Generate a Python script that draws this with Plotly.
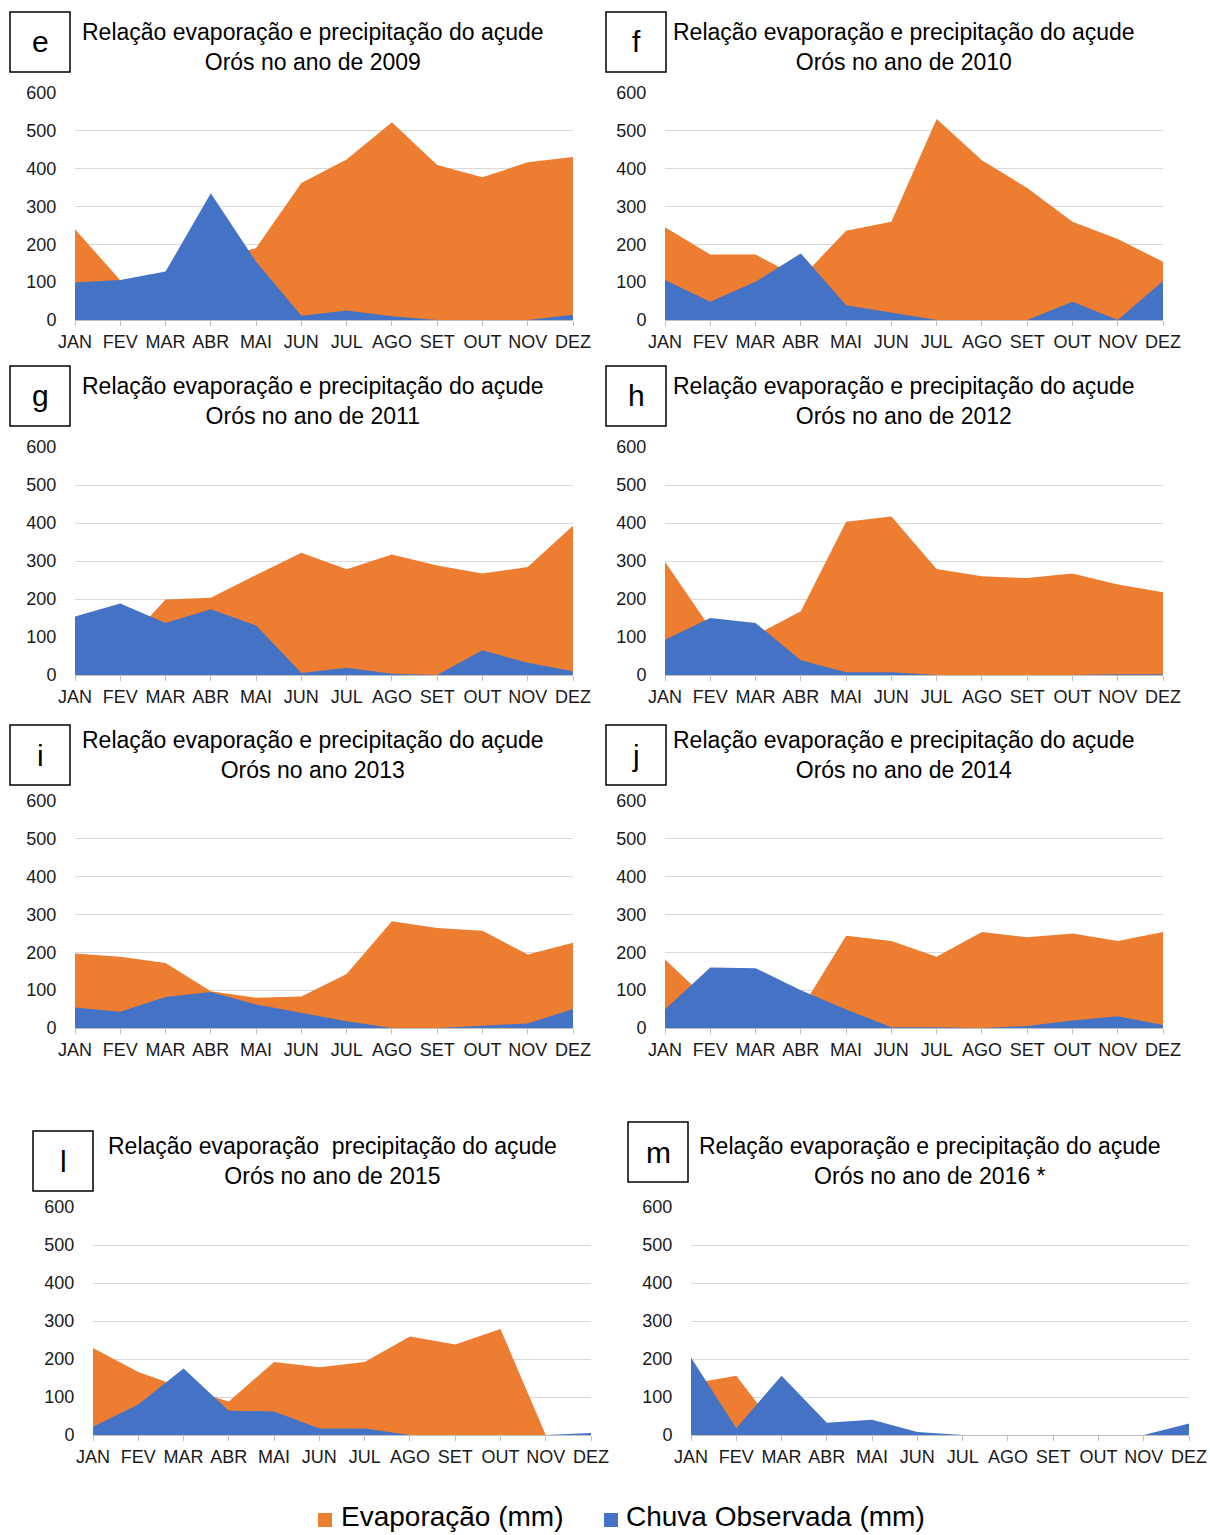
import plotly.graph_objects as go

W, H = 1210, 1535

months = ["JAN", "FEV", "MAR", "ABR", "MAI", "JUN", "JUL", "AGO", "SET", "OUT", "NOV", "DEZ"]

# Monthly evaporation (mm) per year
evap_2009 = [240, 105, 120, 160, 190, 362, 424, 523, 410, 377, 417, 431]
evap_2010 = [245, 173, 173, 110, 236, 260, 531, 422, 349, 260, 214, 154]
evap_2011 = [120, 70, 199, 203, 263, 322, 278, 317, 288, 267, 284, 393]
evap_2012 = [298, 124, 105, 168, 403, 417, 279, 260, 255, 267, 238, 218]
evap_2013 = [197, 188, 172, 97, 80, 83, 143, 282, 264, 257, 194, 225]
evap_2014 = [181, 68, 60, 48, 244, 230, 188, 254, 240, 250, 230, 254]
evap_2015 = [229, 166, 124, 88, 192, 178, 192, 259, 238, 279, 0, 0]
evap_2016 = [135, 156, 0, 0, 0, 0, 0, 0, 0, 0, 0, 0]

# Monthly observed rainfall (mm) per year
rain_2009 = [99, 106, 128, 335, 154, 11, 25, 10, 0, 0, 0, 14]
rain_2010 = [106, 48, 101, 176, 39, 19, 0, 0, 0, 48, 0, 103]
rain_2011 = [154, 188, 137, 173, 130, 5, 19, 3, 0, 65, 32, 10]
rain_2012 = [93, 150, 137, 39, 7, 7, 0, 0, 0, 0, 2, 2]
rain_2013 = [54, 43, 82, 95, 62, 40, 18, 0, 0, 6, 12, 50]
rain_2014 = [49, 160, 158, 100, 49, 2, 2, 0, 5, 20, 31, 8]
rain_2015 = [22, 80, 175, 64, 62, 17, 17, 0, 0, 0, 0, 5]
rain_2016 = [204, 18, 156, 32, 40, 8, 0, 0, 0, 0, 0, 30]

series_names = ["Evaporação (mm)", "Chuva Observada (mm)"]
letters = ["e", "f", "g", "h", "i", "j", "l", "m"]
titles = [
    "Relação evaporação e precipitação do açude<br>Orós no ano de 2009",
    "Relação evaporação e precipitação do açude<br>Orós no ano de 2010",
    "Relação evaporação e precipitação do açude<br>Orós no ano de 2011",
    "Relação evaporação e precipitação do açude<br>Orós no ano de 2012",
    "Relação evaporação e precipitação do açude<br>Orós no ano 2013",
    "Relação evaporação e precipitação do açude<br>Orós no ano de 2014",
    "Relação evaporação  precipitação do açude<br>Orós no ano de 2015",
    "Relação evaporação e precipitação do açude<br>Orós no ano de 2016 *",
]
evap_series = [evap_2009, evap_2010, evap_2011, evap_2012, evap_2013, evap_2014, evap_2015, evap_2016]
rain_series = [rain_2009, rain_2010, rain_2011, rain_2012, rain_2013, rain_2014, rain_2015, rain_2016]

# Pixel layout of each panel: plot x-span, y-span (top, bottom), letter box corner, title centre
panels = [
    dict(px=(75, 573), py=(93, 320), box=(10, 12), tx=313, ty=47),
    dict(px=(665, 1163), py=(93, 320), box=(606, 12), tx=904, ty=47),
    dict(px=(75, 573), py=(447, 675), box=(10, 366), tx=313, ty=401),
    dict(px=(665, 1163), py=(447, 675), box=(606, 366), tx=904, ty=401),
    dict(px=(75, 573), py=(801, 1028), box=(10, 725), tx=313, ty=755),
    dict(px=(665, 1163), py=(801, 1028), box=(606, 725), tx=904, ty=755),
    dict(px=(93, 591), py=(1207, 1435), box=(33, 1131), tx=332, ty=1161),
    dict(px=(691, 1189), py=(1207, 1435), box=(628, 1122), tx=930, ty=1161),
]

ORANGE = "#ED7D31"
BLUE = "#4472C4"
FONT = "Liberation Sans, Arial, sans-serif"


def fx(p):
    return p / W


def fy(p):
    return 1 - p / H


fig = go.Figure()
layout = dict(shapes=[], annotations=[])
x_idx = list(range(12))

for i, (p, ev, rn) in enumerate(zip(panels, evap_series, rain_series)):
    n = "" if i == 0 else str(i + 1)
    xa, ya = "x" + n, "y" + n
    fig.add_trace(go.Scatter(
        x=x_idx, y=ev, xaxis=xa, yaxis=ya, mode="lines", fill="tozeroy",
        line=dict(width=0, color=ORANGE), fillcolor=ORANGE,
        name=series_names[0], showlegend=False, hoverinfo="skip"))
    fig.add_trace(go.Scatter(
        x=x_idx, y=rn, xaxis=xa, yaxis=ya, mode="lines", fill="tozeroy",
        line=dict(width=0, color=BLUE), fillcolor=BLUE,
        name=series_names[1], showlegend=False, hoverinfo="skip"))

    layout["xaxis" + n] = dict(
        domain=[fx(p["px"][0]), fx(p["px"][1])], anchor=ya, range=[0, 11],
        tickvals=x_idx, ticktext=months, showgrid=False, zeroline=False,
        showline=True, linecolor="#bfbfbf", linewidth=1, automargin=False,
        ticks="outside", ticklen=5, tickcolor="#bfbfbf",
        tickfont=dict(family=FONT, size=18, color="#1a1a1a"), fixedrange=True)
    layout["yaxis" + n] = dict(
        domain=[fy(p["py"][1]), fy(p["py"][0])], anchor=xa, range=[0, 600],
        tickvals=[0, 100, 200, 300, 400, 500, 600], showgrid=True,
        gridcolor="#d9d9d9", gridwidth=1, zeroline=False, showline=False,
        automargin=False, ticks="outside", ticklen=14, tickcolor="rgba(0,0,0,0)",
        tickfont=dict(family=FONT, size=18, color="#1a1a1a"), fixedrange=True)

    bx, by = p["box"]
    layout["shapes"].append(dict(
        type="rect", xref="paper", yref="paper",
        x0=fx(bx), x1=fx(bx + 60), y0=fy(by + 60), y1=fy(by),
        line=dict(color="black", width=1.5), fillcolor="white"))
    layout["annotations"].append(dict(
        text=letters[i], xref="paper", yref="paper", x=fx(bx + 30), y=fy(by + 30),
        xanchor="center", yanchor="middle", showarrow=False,
        font=dict(family=FONT, size=30, color="black")))
    layout["annotations"].append(dict(
        text=titles[i], xref="paper", yref="paper", x=fx(p["tx"]), y=fy(p["ty"]),
        xanchor="center", yanchor="middle", showarrow=False, align="center",
        font=dict(family=FONT, size=23, color="black")))

# Key at the bottom: coloured square followed by the series name
for name, color, sq_x, txt_x in [(series_names[0], ORANGE, 318, 339),
                                  (series_names[1], BLUE, 604, 624)]:
    layout["shapes"].append(dict(
        type="rect", xref="paper", yref="paper",
        x0=fx(sq_x), x1=fx(sq_x + 14), y0=fy(1527), y1=fy(1513),
        line=dict(width=0), fillcolor=color))
    layout["annotations"].append(dict(
        text=name, xref="paper", yref="paper", x=fx(txt_x), y=fy(1534),
        xanchor="left", yanchor="bottom", showarrow=False,
        font=dict(family=FONT, size=28, color="black")))

fig.update_layout(
    width=W, height=H, margin=dict(l=0, r=0, t=0, b=0),
    paper_bgcolor="white", plot_bgcolor="white", showlegend=False,
    **layout)

fig.write_html("out.html", post_script="document.body.style.margin='0';")
